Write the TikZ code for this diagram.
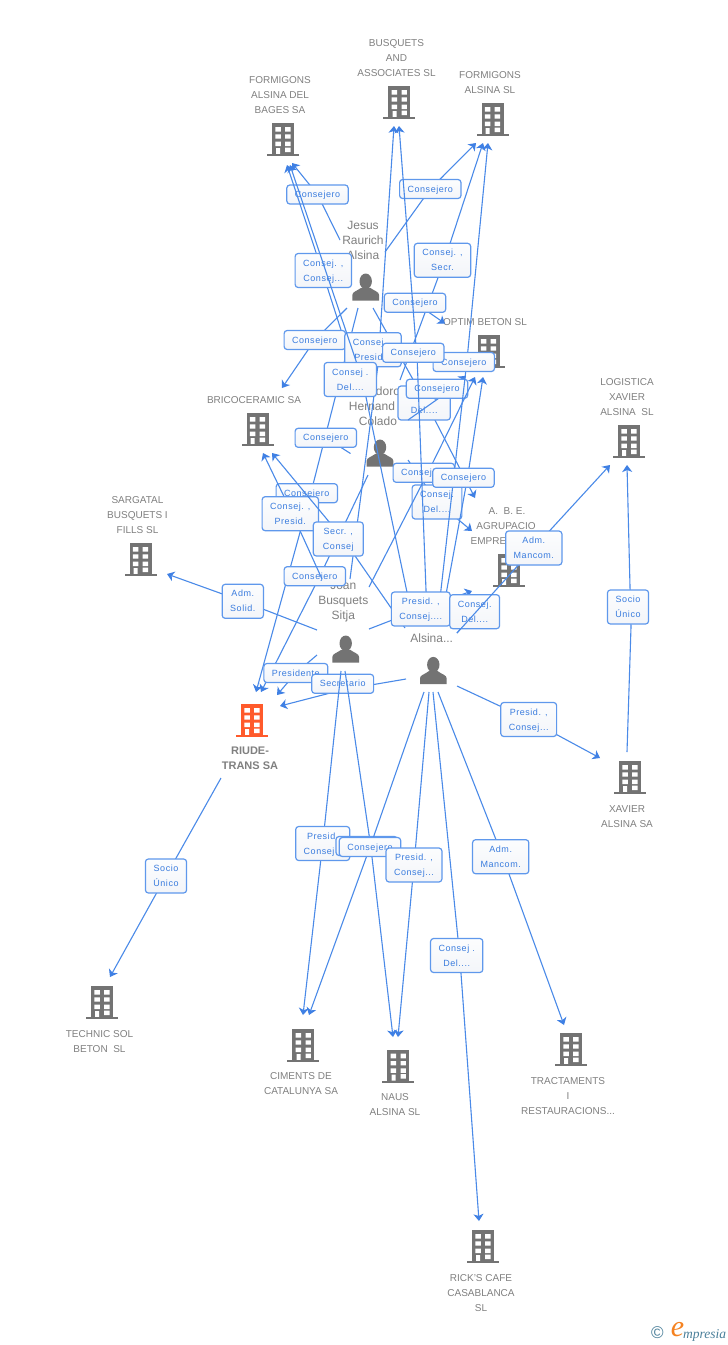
\documentclass[tikz,border=0pt]{standalone}
\usepackage{fontspec}
\usetikzlibrary{arrows.meta}
\setmainfont{Liberation Sans}
\newfontfamily\labfont{Liberation Sans}[LetterSpace=6]
\newfontfamily\logofont{Liberation Serif}
\definecolor{linkc}{HTML}{4A8AE8}
\definecolor{tipc}{HTML}{3F80E4}
\definecolor{labc}{HTML}{5F98EC}
\definecolor{labt}{HTML}{3A7CDE}
\definecolor{grayt}{HTML}{808080}
\definecolor{icon}{HTML}{737373}
\definecolor{iconr}{HTML}{FF5A2B}
\definecolor{logot}{HTML}{4A7F9A}
\definecolor{logoo}{HTML}{F58220}
\definecolor{labtop}{HTML}{FCFDFE}
\definecolor{labbot}{HTML}{F3F5F9}
\tikzset{
  link/.style={draw=linkc,line width=1.1pt},
  linktip/.style={link,-{Stealth[length=7pt,width=10pt,inset=2pt,color=tipc]}},
  lab/.style={rounded corners=3pt,draw=labc,line width=1.2pt,top color=labtop,bottom color=labbot,
    inner xsep=8pt,inner ysep=2pt,align=center,text=labt,font=\labfont\fontsize{9}{15}\selectfont},
  entbox/.style={rectangle,inner sep=0pt,draw=none},
  enttext/.style={align=center,text=grayt,inner sep=0pt,font=\fontsize{10}{15}\selectfont},
  perstext/.style={align=center,text=grayt,inner sep=0pt,font=\fontsize{12}{15}\selectfont},
}
\newcounter{lk}
% [waypoint offset]{from}{offset}{to}{offset}{label position}{text}
\newcommand\conn[7][0,0]{%
  \stepcounter{lk}%
  \coordinate (P) at (#6);
  \draw[link] ([shift={(#3)}]#2.center) -- ([shift={(#1)}]P);
  \draw[linktip] ([shift={(#1)}]P) -- ([shift={(#5)}]#4.center);
  \node[lab] (L\thelk) at (P) {\strut #7};
}
\newcommand\stub[4]{%
  \stepcounter{lk}%
  \coordinate (P) at (#3);
  \draw[link] ([shift={(#2)}]#1.center) -- (P);
  \node[lab] (L\thelk) at (P) {\strut #4};
}
% {name}{rect centre}{w}{h}
\newcommand\ent[4]{\node[entbox,minimum width=#3pt,minimum height=#4pt] (#1) at (#2) {};}
\newcommand\bld[2]{%
  \begin{scope}[shift={(#1)}]
    \fill[#2] (-11,-17) rectangle (11,16.3);
    \fill[#2] (-16,13.8) rectangle (16,16.3);
    \fill[white] (-7.7,-13) rectangle (-2.2,-8.4) (2.2,-13) rectangle (7.5,-8.4)
      (-7.7,-5.7) rectangle (-2.2,-1.3) (2.2,-5.7) rectangle (7.5,-1.3)
      (-7.7,1.7) rectangle (-2.2,6.2) (2.2,1.7) rectangle (7.5,6.2)
      (2.2,7.5) rectangle (7.5,12) (-6.8,8) rectangle (-2.8,13.8);
  \end{scope}}
\newcommand\pers[1]{%
  \begin{scope}[shift={(#1)}]
    \fill[icon] (0,-6) ellipse (6.2 and 7.8);
    \fill[icon] (-13.3,13.3) -- (-13.3,7.5) .. controls (-13.3,4.5) and (-9,3.8) .. (-4.5,0.5) -- (4.5,0.5)
      .. controls (9,3.8) and (13.3,4.5) .. (13.3,7.5) -- (13.3,13.3) -- cycle;
  \end{scope}}
\begin{document}
\begin{tikzpicture}[x=1pt,y=-1pt]
\useasboundingbox (0,0) rectangle (728,1345);
\fill[white] (0,0) rectangle (728,1345);
% --- entity areas ---
\ent{J}{362.5,262.5}{45}{91}
\ent{Is}{377.5,427.5}{61}{95}
\ent{Jo}{343,625}{52}{92}
\ent{A}{431.5,653.5}{51}{77}
\ent{FAB}{280,117.5}{60}{91}
\ent{BUS}{396,80.5}{80}{91}
\ent{FA}{490,105}{64}{76}
\ent{OPT}{485,345.5}{84}{61}
\ent{BRI}{254.5,420.5}{95}{65}
\ent{SAR}{137,535}{60}{86}
\ent{ABE}{508.5,545}{73}{94}
\ent{LOG}{627,419}{60}{90}
\ent{RIU}{250,735}{60}{86}
\ent{XAV}{627.5,791}{55}{78}
\ent{TEC}{100,1016}{70}{78}
\ent{CIM}{301,1056}{84}{82}
\ent{NAU}{395,1077}{60}{80}
\ent{TRA}{568,1070}{96}{90}
\ent{RIC}{481,1267}{76}{92}
% --- icons ---
\bld{283,140}{icon}\bld{399.3,103}{icon}\bld{492.5,120}{icon}\bld{488.5,352}{icon}
\bld{257.5,430}{icon}\bld{140.5,560}{icon}\bld{509,571}{icon}\bld{629,442}{icon}
\bld{252,721}{iconr}\bld{630,778}{icon}\bld{102,1003}{icon}\bld{303.3,1046}{icon}
\bld{398.3,1066.7}{icon}\bld{571,1050}{icon}\bld{483,1247}{icon}
\pers{365.7,287.3}\pers{380,453.3}\pers{345.7,649.3}\pers{433.3,670.7}
% --- texts ---
\node[enttext] (tFAB) at (280,95) {FORMIGONS\\ALSINA DEL\\BAGES SA};
\node[enttext] (tBUS) at (396.5,58) {BUSQUETS\\AND\\ASSOCIATES SL};
\node[enttext] (tFA) at (490,82.5) {FORMIGONS\\ALSINA SL};
\node[enttext] (tOPT) at (485,322) {OPTIM BETON SL};
\node[enttext] (tBRI) at (254,400) {BRICOCERAMIC SA};
\node[enttext] (tSAR) at (137.5,515) {SARGATAL\\BUSQUETS I\\FILLS SL};
\node[enttext] (tABE1) at (507,511) {A.\ \ B. E.};
\node[enttext] (tABE2) at (506,526) {AGRUPACIO};
\node[enttext,anchor=west] (tABE3) at (470.5,541) {EMPRE};
\node[enttext] (tLOG) at (627,397) {LOGISTICA\\XAVIER\\ALSINA\ \ SL};
\node[enttext,font=\bfseries\fontsize{11}{15}\selectfont] (tRIU) at (250,758) {RIUDE-\\TRANS SA};
\node[enttext] (tXAV) at (627,816.5) {XAVIER\\ALSINA SA};
\node[enttext] (tTEC) at (99.5,1041.5) {TECHNIC SOL\\BETON\ \ SL};
\node[enttext] (tCIM) at (301,1083.5) {CIMENTS DE\\CATALUNYA SA};
\node[enttext] (tNAU) at (395,1104.5) {NAUS\\ALSINA SL};
\node[enttext] (tTRA) at (568,1096) {TRACTAMENTS\\I\\RESTAURACIONS...};
\node[enttext] (tRIC) at (481,1293) {RICK'S CAFE\\CASABLANCA\\SL};
\node[perstext] (tJ) at (363,240) {Jesus\\Raurich\\Alsina};
\node[perstext] (tI1) at (388,391) {doro};
\node[perstext] (tI2) at (372,406) {Hernand};
\node[perstext] (tI3) at (378,421) {Colado};
\node[perstext] (tJo) at (343.3,601.7) {Joan\\Busquets\\Sitja};
\node[perstext] (tA) at (431.7,638) {Alsina...};
% --- connectors, in stacking order ---
\conn{J}{-22.5,-22.5}{FAB}{12,45.5}{317.5,194.5}{Consejero}
\conn[-2,-2]{Is}{-20.5,-47.5}{FAB}{7,47.5}{323.3,270.5}{Consej. ,\\\strut Consej...}
\conn{J}{22.5,-10.5}{FA}{-14,38}{430.3,189}{Consejero}
\conn[2,0]{Is}{22.5,-47.5}{FA}{-7,38}{442.5,260.3}{Consej. ,\\\strut Secr.}
\conn{J}{22.5,32}{OPT}{-40,-22}{415,302.8}{Consejero}
\conn{J}{-15.5,45.5}{BRI}{27.5,-32.5}{314.8,340}{Consejero}
\conn[4,0]{J}{-4.5,45.5}{RIU}{6,-43}{306.8,493.2}{Consejero}
\conn[2,0]{J}{10.5,45.5}{ABE}{-33.5,-47}{424.2,403}{Consej .\\\strut Del....}
\conn[5,15]{Jo}{7,-46}{BUS}{-2,45.5}{373,349.7}{Consej. ,\\\strut Presid...}
\conn{Is}{30.5,32.5}{ABE}{-36.5,-14}{437,502}{Consej.\\\strut Del....}
\stub{Is}{-27,26}{325.8,437.8}{Consejero}
\conn[5,0]{Is}{-9.5,47.5}{RIU}{11,-43}{314.8,576.2}{Consejero}
\conn[1,10]{Is}{30.5,-7.5}{OPT}{-19,30.5}{437,388.8}{Consejero}
\conn[2,0]{Jo}{-21,-46}{BRI}{8.5,32.5}{290.3,513.7}{Consej. ,\\\strut Presid.}
\conn[4,0]{Jo}{26,-38}{OPT}{-10,31.5}{423.8,472.8}{Consejero}
\conn[12,0]{A}{-19.5,-37.5}{FAB}{10,47.5}{350.3,379.5}{Consej .\\\strut Del....}
\conn[5,0]{A}{-26.5,-25.5}{BRI}{17.5,32.5}{338.3,539}{Secr. ,\\\strut\makebox[34pt]{Consej}}
\conn[3,0]{A}{6.5,-37.5}{FA}{-2,38}{463.8,362}{Consejero}
\conn[4,10]{A}{-4.5,-37.5}{BUS}{3,45.5}{413.3,352.8}{Consejero}
\conn[4,0]{A}{10.5,-37.5}{OPT}{-2,31.5}{463.5,477.8}{Consejero}
\conn{Jo}{26,4}{ABE}{-36.5,46}{420.8,609}{Presid. ,\\\strut Consej....}
\stub{A}{25.5,-20.5}{474.7,611.7}{Consej.\\\strut Del....}
\conn{A}{25.5,-20.5}{LOG}{-17,46}{533.8,548}{Adm.\\\strut Mancom.}
\conn{Jo}{-26,5}{SAR}{30,39}{242.8,601.3}{Adm.\\\strut Solid.}
\conn{Jo}{-26,30}{RIU}{27,-40}{295.8,673}{Presidente}
\conn[0,6]{A}{-25.5,25.5}{RIU}{30,-29}{342.7,683.8}{Secretario}
\conn{Jo}{-2,46}{CIM}{2,-41}{322.7,843.5}{Presid.\\\strut\makebox[38pt][l]{Consej}}
\conn[4,0]{Jo}{2,46}{NAU}{-2,-40}{366.7,846}{Consejero}
\conn{A}{-7.5,38.5}{CIM}{8,-41}{370,847}{Consejero}
\conn{A}{-2.5,38.5}{NAU}{3,-40}{414,865}{Presid. ,\\\strut Consej...}
\conn[3,0]{A}{1.5,38.5}{RIC}{-2,-46}{456.7,955.5}{Consej .\\\strut Del....}
\conn[2,0]{A}{6.5,38.5}{TRA}{-4,-45}{500.7,856.7}{Adm.\\\strut Mancom.}
\conn{A}{25.5,32.5}{XAV}{-27.5,-33}{528.7,719.5}{Presid. ,\\\strut Consej...}
\conn[3,20]{XAV}{-0.5,-39}{LOG}{0,46}{628,607}{Socio\\\strut Único}
\conn{RIU}{-29,43}{TEC}{10,-39}{166,876}{Socio\\\strut Único}
% --- logo ---
\node[inner sep=0pt,text=logot,font=\fontsize{17}{17}\selectfont] (logoc) at (657.5,1333) {©};
\node[inner sep=0pt,text=logoo,font=\logofont\itshape\fontsize{30}{30}\selectfont] (logoe) at (677.5,1330) {e};
\node[inner sep=0pt,text=logot,anchor=base west,font=\logofont\itshape\fontsize{13.5}{14}\selectfont] (logot) at (683,1338) {mpresia};
\end{tikzpicture}
\end{document}
